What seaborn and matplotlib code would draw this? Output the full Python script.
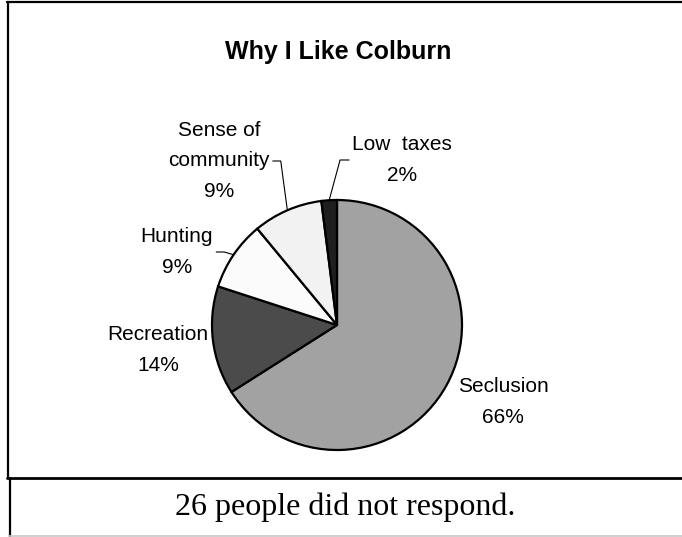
import numpy as np
import matplotlib
matplotlib.use("Agg")
import matplotlib.pyplot as plt
import seaborn as sns
from matplotlib.lines import Line2D

# ---- data ----
categories = ["Seclusion", "Recreation", "Hunting", "Sense of\ncommunity", "Low  taxes"]
percent = [66, 14, 9, 9, 2]
colors = ["#a2a2a2", "#4b4b4b", "#fbfbfb", "#f2f2f2", "#1f1f1f"]
title = "Why I Like Colburn"
note = "26 people did not respond."

sns.set_theme(style="white")
plt.rcParams["font.family"] = ["Liberation Sans", "DejaVu Sans"]
plt.rcParams["text.color"] = "black"

W, H = 682, 537
fig = plt.figure(figsize=(W / 100, H / 100), dpi=100)
ax = fig.add_axes([0, 0, 1, 1])

cx, cy, R = 337, H - 325, 125
wedges, _ = ax.pie(percent, colors=colors, startangle=90, counterclock=False,
                   center=(cx, cy), radius=R,
                   wedgeprops=dict(edgecolor="black", linewidth=1.6))
ax.set_xlim(0, W)
ax.set_ylim(0, H)
ax.set_aspect("equal")
ax.axis("off")

# label layout (pixel coords, y from top): x-center, y-center of block, leader side
label_pos = [(503, 402, None), (158, 350, None), (177, 252, "right"),
             (219, 161, "right"), (402, 160, "left")]
for w, lab, p, (lx, ly, side) in zip(wedges, categories, percent, label_pos):
    txt = f"{lab}\n{p}%"
    t = ax.text(lx, H - ly, txt, ha="center", va="center", fontsize=15,
                linespacing=1.75, color="black")
    if side is not None:
        mid = np.deg2rad((w.theta1 + w.theta2) / 2)
        ex, ey = cx + R * np.cos(mid), cy + R * np.sin(mid)
        fig.canvas.draw()
        bb = t.get_window_extent().transformed(ax.transData.inverted())
        if side == "right":
            sx = bb.x1 + 3
            elx = sx + 8
        else:
            sx = bb.x0 - 3
            elx = sx - 9
        ax.add_line(Line2D([sx, elx, ex], [H - ly, H - ly, ey], color="black", lw=0.8))

ax.text(338, H - 52, title, ha="center", va="center", fontsize=18,
        fontweight="bold", color="black")

# frame lines
ax.add_line(Line2D([7, W], [H - 2, H - 2], color="black", lw=1.6))
ax.add_line(Line2D([8, 8], [H - 2, H - 478], color="black", lw=1.6))
ax.add_line(Line2D([7, W], [H - 478, H - 478], color="black", lw=2.0))
ax.add_line(Line2D([9.5, 9.5], [H - 478, 0], color="black", lw=1.6))
ax.add_line(Line2D([9, W], [1, 1], color="#c8c8c8", lw=1.2))

ax.text(345, H - 507, note, ha="center", va="center", fontsize=23, color="black",
        family=["Liberation Serif", "DejaVu Serif"])

fig.savefig("out.png", dpi=100, facecolor="white")
